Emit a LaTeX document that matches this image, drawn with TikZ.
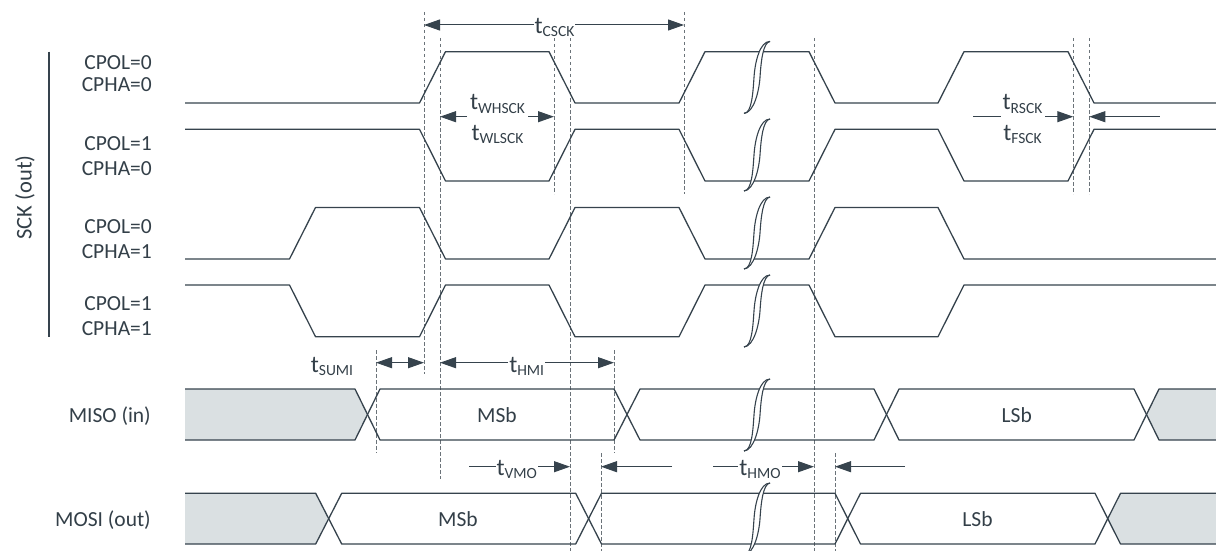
\documentclass[tikz,border=0pt]{standalone}
\usepackage{fontspec}
\setmainfont{Carlito}
\usetikzlibrary{arrows.meta}
\definecolor{sig}{HTML}{36434D}
\definecolor{txt}{HTML}{333F48}
\definecolor{dsh}{HTML}{6B7379}
\definecolor{gfill}{HTML}{DAE0E2}
\newcommand{\tsub}[1]{t\raisebox{-3.4pt}{\fontsize{15.5}{16}\selectfont #1}}
\tikzset{
  brk/.pic={
    \fill[white] (-13,36) .. controls (-5,36) and (-4,14) .. (-3,0) .. controls (-2,-16) and (3,-36) .. (13,-36) .. controls (6,-35) and (4,-16) .. (3,0) .. controls (2,14) and (-3,35) .. (-13,36) -- cycle;
    \draw[sig,line width=1.1pt] (-13,36) .. controls (-5,36) and (-4,14) .. (-3,0) .. controls (-2,-16) and (3,-36) .. (13,-36);
    \draw[sig,line width=1.1pt] (-13,36) .. controls (-3,35) and (2,14) .. (3,0) .. controls (4,-16) and (6,-35) .. (13,-36);
  }
}
\begin{document}
\begin{tikzpicture}[x=1pt,y=-1pt,
  sigl/.style={draw=sig,line width=1.3pt,line join=round},
  dsl/.style={draw=dsh,line width=0.9pt,dash pattern=on 3.5pt off 2.5pt},
  arr/.style={draw=sig,line width=1pt,-{Triangle[length=16pt,width=11pt]}},
  dbl/.style={draw=sig,line width=1pt,{Triangle[length=16pt,width=11pt]}-{Triangle[length=16pt,width=11pt]}},
  lbl/.style={text=txt,font=\fontsize{21.5}{24}\selectfont,inner sep=0pt},
  cl/.style={lbl,anchor=base east,text height=14pt,text depth=2.5pt},
  tl/.style={text=txt,font=\fontsize{24}{26}\selectfont,inner sep=1pt},
  tlw/.style={tl,fill=white}]
\useasboundingbox (0,0) rectangle (1216,551);

% dashed reference lines
\foreach \x/\a/\b in {376/350/453, 424/12/374, 440/38/479, 554/38/194, 570/38/551,
  614/350/453, 601/453/551, 684/12/194, 814/38/551, 835/453/551, 1073.3/38/194, 1089.3/38/194}
  \draw[dsl] (\x,\a) -- (\x,\b);

% left labels
\draw[sig,line width=1.8pt] (49.3,51.7) -- (49.3,336.7);
\node[lbl,rotate=90] (sck) at (25,197.5) {\fontsize{22.5}{24}\selectfont SCK (out)};
\node[cl] (c1a) at (152,70) {CPOL=0};
\node[cl] (c1b) at (152,92) {CPHA=0};
\node[cl] (c2a) at (152,150) {CPOL=1};
\node[cl] (c2b) at (152,175) {CPHA=0};
\node[cl] (c3a) at (152,233.3) {CPOL=0};
\node[cl] (c3b) at (152,258.3) {CPHA=1};
\node[cl] (c4a) at (152,310) {CPOL=1};
\node[cl] (c4b) at (152,335) {CPHA=1};
\node[lbl,anchor=base east] (miso) at (151,422.5) {MISO (in)};
\node[lbl,anchor=base east] (mosi) at (151,526) {MOSI (out)};

% SCK waveforms
\draw[sigl] (185,103) -- (419.5,103) -- (445.5,51.7) -- (549,51.7) -- (575,103) -- (679,103) -- (705,51.7) -- (809,51.7) -- (835,103) -- (938,103) -- (964,51.7) -- (1068,51.7) -- (1094,103) -- (1216,103);
\draw[sigl] (185,129.3) -- (419.5,129.3) -- (445.5,181) -- (549,181) -- (575,129.3) -- (679,129.3) -- (705,181) -- (809,181) -- (835,129.3) -- (938,129.3) -- (964,181) -- (1068,181) -- (1094,129.3) -- (1216,129.3);
\draw[sigl] (185,259) -- (289.5,259) -- (315.5,207.5) -- (419.5,207.5) -- (445.5,259) -- (549,259) -- (575,207.5) -- (679,207.5) -- (705,259) -- (809,259) -- (835,207.5) -- (938,207.5) -- (964,259) -- (1216,259);
\draw[sigl] (185,285) -- (289.5,285) -- (315.5,336.7) -- (419.5,336.7) -- (445.5,285) -- (549,285) -- (575,336.7) -- (679,336.7) -- (705,285) -- (809,285) -- (835,336.7) -- (938,336.7) -- (964,285) -- (1216,285);

% MISO
\fill[gfill] (185,389) -- (355,389) -- (367.5,414.5) -- (355,440) -- (185,440) -- cycle;
\fill[gfill] (1216,389) -- (1159,389) -- (1146.5,414.5) -- (1159,440) -- (1216,440) -- cycle;
\draw[sigl] (185,389) -- (355,389) -- (380,440) -- (614,440) -- (640,389) -- (874,389) -- (899,440) -- (1134,440) -- (1159,389) -- (1216,389);
\draw[sigl] (185,440) -- (355,440) -- (380,389) -- (614,389) -- (640,440) -- (874,440) -- (899,389) -- (1134,389) -- (1159,440) -- (1216,440);
% MOSI
\fill[gfill] (185,493.3) -- (315.7,493.3) -- (328.7,518.7) -- (315.7,544) -- (185,544) -- cycle;
\fill[gfill] (1216,493.3) -- (1120.5,493.3) -- (1107.8,518.7) -- (1120.5,544) -- (1216,544) -- cycle;
\draw[sigl] (185,493.3) -- (315.7,493.3) -- (341.7,544) -- (575.7,544) -- (601.5,493.3) -- (835,493.3) -- (860.5,544) -- (1095,544) -- (1120.5,493.3) -- (1216,493.3);
\draw[sigl] (185,544) -- (315.7,544) -- (341.7,493.3) -- (575.7,493.3) -- (601.5,544) -- (835,544) -- (860.5,493.3) -- (1095,493.3) -- (1120.5,544) -- (1216,544);

\node[lbl,anchor=base] (msb1) at (497,422.7) {MSb};
\node[lbl,anchor=base] (lsb1) at (1016.7,422.7) {LSb};
\node[lbl,anchor=base] (msb2) at (458,526.5) {MSb};
\node[lbl,anchor=base] (lsb2) at (977.5,526.5) {LSb};

% break marks
\foreach \y in {77.4,155,233,311,415,519}
  \pic at (757,\y) {brk};

% timing arrows
\draw[dbl] (424,25) -- (684,25);
\node[tlw,anchor=base] (tcsck) at (554.5,33.3) {\tsub{CSCK}};

\draw[arr] (467,116.7) -- (440,116.7);
\draw[arr] (528,116.7) -- (554,116.7);
\node[tl,anchor=base] (twh) at (497.5,110) {\tsub{WHSCK}};
\node[tl,anchor=base] (twl) at (497.5,140) {\tsub{WLSCK}};

\draw[sig,line width=1pt] (973,116.7) -- (1001,116.7);
\draw[arr] (1045,116.7) -- (1073.3,116.7);
\draw[arr] (1159.5,116.7) -- (1089.3,116.7);
\node[tl,anchor=base] (trs) at (1022.5,110) {\tsub{RSCK}};
\node[tl,anchor=base] (tfs) at (1022.5,140) {\tsub{FSCK}};

\node[tl,anchor=base] (tsumi) at (332,372.3) {\tsub{SUMI}};
\draw[dbl] (376,362.7) -- (424,362.7);
\draw[dbl] (440,362.7) -- (614,362.7);
\node[tlw,anchor=base] (thmi) at (526.7,372.3) {\tsub{HMI}};

\draw[arr] (469,466.7) -- (570,466.7);
\node[tlw,anchor=base] (tvmo) at (516.7,475.5) {\tsub{VMO}};
\draw[arr] (672,466.7) -- (601,466.7);
\draw[arr] (713,466.7) -- (814,466.7);
\node[tlw,anchor=base] (thmo) at (760,475.5) {\tsub{HMO}};
\draw[arr] (905,466.7) -- (835,466.7);
\end{tikzpicture}
\end{document}
